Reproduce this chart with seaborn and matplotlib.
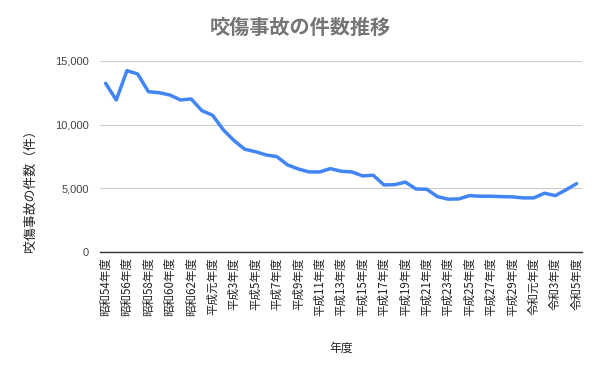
import matplotlib
matplotlib.use("Agg")
import matplotlib.pyplot as plt
import seaborn as sns
import pandas as pd
from matplotlib.ticker import FuncFormatter

years = (["昭和%d年度" % y for y in range(54, 64)]
         + ["平成元年度"] + ["平成%d年度" % y for y in range(2, 31)]
         + ["令和元年度"] + ["令和%d年度" % y for y in range(2, 6)])
counts = [13240, 11930, 14230, 13970, 12580, 12500, 12320, 11930, 12010, 11090,
          10730, 9580, 8740, 8060, 7870, 7610, 7480, 6830, 6510, 6280,
          6280, 6540, 6330, 6280, 5970, 6020, 5260, 5280, 5480, 4940,
          4920, 4340, 4140, 4160, 4420, 4370, 4370, 4340, 4320, 4240,
          4240, 4610, 4420, 4870, 5360]

df = pd.DataFrame({"year": years, "count": counts, "idx": range(len(years))})

sns.set_theme(style="white")
plt.rcParams["font.family"] = ["Noto Sans CJK JP", "DejaVu Sans"]

fig = plt.figure(figsize=(6, 3.71), dpi=100)
ax = fig.add_axes([0.167, 0.321, 0.803, 0.515])

sns.lineplot(data=df, x="idx", y="count", ax=ax, color="#4285F4", linewidth=2.5)

ax.set_xlim(-0.5, len(years) - 0.5)
ax.set_ylim(0, 15000)
ax.set_yticks([0, 5000, 10000, 15000])
ax.yaxis.set_major_formatter(FuncFormatter(lambda v, p: f"{int(v):,}"))
ax.set_xticks(range(0, len(years), 2))
ax.set_xticklabels(years[::2], rotation=90, fontsize=8.3, color="#222222")
ax.tick_params(axis="y", labelsize=8, colors="#444444", length=0, pad=8)
ax.tick_params(axis="x", length=0, pad=4)
for lbl in ax.get_yticklabels():
    lbl.set_family(["Liberation Sans", "DejaVu Sans"])

ax.grid(axis="y", color="#cccccc", linewidth=0.8)
ax.grid(axis="x", visible=False)
for s in ["left", "right", "top"]:
    ax.spines[s].set_visible(False)
ax.spines["bottom"].set_color("#333333")
ax.spines["bottom"].set_linewidth(1.0)

ax.set_xlabel("年度", fontsize=8.5, color="#222222", labelpad=18)
ax.set_ylabel("咬傷事故の件数（件）", fontsize=9.3, color="#222222")
ax.yaxis.set_label_coords(-0.131, 0.335)
fig.suptitle("咬傷事故の件数推移", x=0.5, y=0.955, fontsize=14.5,
             fontweight="bold", color="#757575")

fig.savefig("out.png", dpi=100)
